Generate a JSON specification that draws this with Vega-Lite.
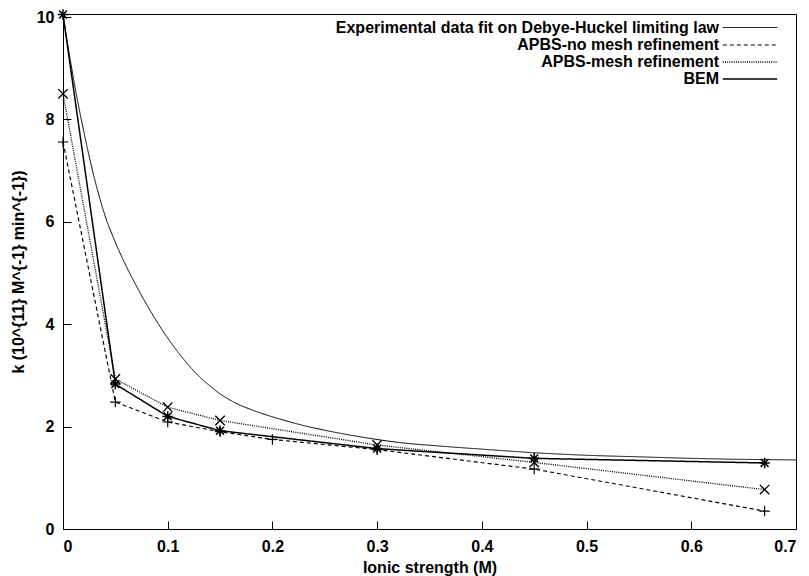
{
  "$schema": "https://vega.github.io/schema/vega-lite/v6.json",
  "width": 733,
  "height": 515,
  "autosize": "none",
  "padding": {"left": 63, "top": 14, "right": 13, "bottom": 47},
  "background": "white",
  "config": {
    "view": {"stroke": "black", "strokeWidth": 1},
    "font": "Liberation Sans",
    "axis": {
      "grid": false,
      "labelFont": "Liberation Sans",
      "labelFontSize": 16,
      "labelFontWeight": "bold",
      "labelColor": "black",
      "titleFont": "Liberation Sans",
      "titleFontSize": 16,
      "titleFontWeight": "bold",
      "titleColor": "black"
    }
  },
  "datasets": {
    "fit": [
      {"series": "Experimental data fit on Debye-Huckel limiting law", "x": 0, "k": 10.05},
      {"series": "Experimental data fit on Debye-Huckel limiting law", "x": 0.005, "k": 9.4},
      {"series": "Experimental data fit on Debye-Huckel limiting law", "x": 0.01, "k": 8.8},
      {"series": "Experimental data fit on Debye-Huckel limiting law", "x": 0.015, "k": 8.25},
      {"series": "Experimental data fit on Debye-Huckel limiting law", "x": 0.02, "k": 7.75},
      {"series": "Experimental data fit on Debye-Huckel limiting law", "x": 0.025, "k": 7.28},
      {"series": "Experimental data fit on Debye-Huckel limiting law", "x": 0.03, "k": 6.85},
      {"series": "Experimental data fit on Debye-Huckel limiting law", "x": 0.035, "k": 6.47},
      {"series": "Experimental data fit on Debye-Huckel limiting law", "x": 0.04, "k": 6.13},
      {"series": "Experimental data fit on Debye-Huckel limiting law", "x": 0.05, "k": 5.6},
      {"series": "Experimental data fit on Debye-Huckel limiting law", "x": 0.06, "k": 5.15},
      {"series": "Experimental data fit on Debye-Huckel limiting law", "x": 0.07, "k": 4.75},
      {"series": "Experimental data fit on Debye-Huckel limiting law", "x": 0.08, "k": 4.38},
      {"series": "Experimental data fit on Debye-Huckel limiting law", "x": 0.09, "k": 4.04},
      {"series": "Experimental data fit on Debye-Huckel limiting law", "x": 0.1, "k": 3.73},
      {"series": "Experimental data fit on Debye-Huckel limiting law", "x": 0.11, "k": 3.45},
      {"series": "Experimental data fit on Debye-Huckel limiting law", "x": 0.12, "k": 3.2},
      {"series": "Experimental data fit on Debye-Huckel limiting law", "x": 0.13, "k": 2.98},
      {"series": "Experimental data fit on Debye-Huckel limiting law", "x": 0.14, "k": 2.8},
      {"series": "Experimental data fit on Debye-Huckel limiting law", "x": 0.15, "k": 2.64},
      {"series": "Experimental data fit on Debye-Huckel limiting law", "x": 0.162, "k": 2.49},
      {"series": "Experimental data fit on Debye-Huckel limiting law", "x": 0.18, "k": 2.33},
      {"series": "Experimental data fit on Debye-Huckel limiting law", "x": 0.194, "k": 2.23},
      {"series": "Experimental data fit on Debye-Huckel limiting law", "x": 0.21, "k": 2.13},
      {"series": "Experimental data fit on Debye-Huckel limiting law", "x": 0.226, "k": 2.04},
      {"series": "Experimental data fit on Debye-Huckel limiting law", "x": 0.257, "k": 1.9},
      {"series": "Experimental data fit on Debye-Huckel limiting law", "x": 0.29, "k": 1.78},
      {"series": "Experimental data fit on Debye-Huckel limiting law", "x": 0.321, "k": 1.69},
      {"series": "Experimental data fit on Debye-Huckel limiting law", "x": 0.36, "k": 1.62},
      {"series": "Experimental data fit on Debye-Huckel limiting law", "x": 0.4, "k": 1.56},
      {"series": "Experimental data fit on Debye-Huckel limiting law", "x": 0.45, "k": 1.49},
      {"series": "Experimental data fit on Debye-Huckel limiting law", "x": 0.5, "k": 1.44},
      {"series": "Experimental data fit on Debye-Huckel limiting law", "x": 0.55, "k": 1.41},
      {"series": "Experimental data fit on Debye-Huckel limiting law", "x": 0.6, "k": 1.38},
      {"series": "Experimental data fit on Debye-Huckel limiting law", "x": 0.65, "k": 1.36},
      {"series": "Experimental data fit on Debye-Huckel limiting law", "x": 0.7, "k": 1.35}
    ],
    "sim": [
      {"series": "APBS-no mesh refinement", "x": 0, "k": 7.56},
      {"series": "APBS-no mesh refinement", "x": 0.05, "k": 2.48},
      {"series": "APBS-no mesh refinement", "x": 0.1, "k": 2.09},
      {"series": "APBS-no mesh refinement", "x": 0.15, "k": 1.9},
      {"series": "APBS-no mesh refinement", "x": 0.2, "k": 1.75},
      {"series": "APBS-no mesh refinement", "x": 0.3, "k": 1.55},
      {"series": "APBS-no mesh refinement", "x": 0.45, "k": 1.17},
      {"series": "APBS-no mesh refinement", "x": 0.67, "k": 0.35},
      {"series": "APBS-mesh refinement", "x": 0, "k": 8.5},
      {"series": "APBS-mesh refinement", "x": 0.05, "k": 2.93},
      {"series": "APBS-mesh refinement", "x": 0.1, "k": 2.38},
      {"series": "APBS-mesh refinement", "x": 0.15, "k": 2.12},
      {"series": "APBS-mesh refinement", "x": 0.3, "k": 1.64},
      {"series": "APBS-mesh refinement", "x": 0.45, "k": 1.3},
      {"series": "APBS-mesh refinement", "x": 0.67, "k": 0.77},
      {"series": "BEM", "x": 0, "k": 10.05},
      {"series": "BEM", "x": 0.05, "k": 2.83},
      {"series": "BEM", "x": 0.1, "k": 2.2},
      {"series": "BEM", "x": 0.15, "k": 1.92},
      {"series": "BEM", "x": 0.3, "k": 1.57},
      {"series": "BEM", "x": 0.45, "k": 1.38},
      {"series": "BEM", "x": 0.67, "k": 1.29}
    ]
  },
  "layer": [
    {
      "data": {"name": "fit"},
      "mark": {"type": "line", "color": "black", "interpolate": "monotone"},
      "encoding": {
        "x": {"field": "x", "type": "quantitative", "scale": {"domain": [0, 0.7], "nice": false},
          "axis": {"orient": "bottom", "values": [0, 0.1, 0.2, 0.3, 0.4, 0.5, 0.6, 0.7], "format": "~g", "title": "Ionic strength (M)", "ticks": true, "tickSize": 8, "tickWidth": 1, "tickColor": "black", "offset": -8, "domainOpacity": 0, "labelPadding": 9, "titlePadding": 5}},
        "y": {"field": "k", "type": "quantitative", "scale": {"domain": [0, 10.06], "nice": false},
          "axis": {"orient": "left", "values": [0, 2, 4, 6, 8, 10], "title": "k (10^{11} M^{-1} min^{-1})", "ticks": true, "tickSize": 8, "tickWidth": 1, "tickColor": "black", "offset": -8, "domainOpacity": 0, "labelPadding": 9, "titlePadding": 10}},
        "strokeDash": {"field": "series", "type": "nominal",
          "scale": {"domain": ["Experimental data fit on Debye-Huckel limiting law", "APBS-no mesh refinement", "APBS-mesh refinement", "BEM"], "range": [[1, 0], [4, 3], [1, 1.2], [1, 0]]},
          "legend": {"orient": "none", "legendX": 678, "legendY": 5, "title": null, "symbolType": "M-3.4,0L3.4,0", "symbolSize": 256, "symbolStrokeColor": "black", "symbolFillColor": "transparent", "labelAlign": "right", "labelOffset": -40, "labelFontSize": 16, "labelFontWeight": "bold", "labelColor": "black", "labelLimit": 0, "rowPadding": 0, "padding": 0}},
        "strokeWidth": {"field": "series", "type": "nominal",
          "scale": {"domain": ["Experimental data fit on Debye-Huckel limiting law", "APBS-no mesh refinement", "APBS-mesh refinement", "BEM"], "range": [1, 1.5, 1.5, 3]},
          "legend": {"orient": "none", "legendX": 678, "legendY": 5, "title": null, "symbolType": "M-3.4,0L3.4,0", "symbolSize": 256, "symbolStrokeColor": "black", "symbolFillColor": "transparent", "labelAlign": "right", "labelOffset": -40, "labelFontSize": 16, "labelFontWeight": "bold", "labelColor": "black", "labelLimit": 0, "rowPadding": 0, "padding": 0}}
      }
    },
    {
      "data": {"name": "sim"},
      "mark": {"type": "line", "color": "black"},
      "encoding": {
        "x": {"field": "x", "type": "quantitative"},
        "y": {"field": "k", "type": "quantitative"},
        "strokeDash": {"field": "series", "type": "nominal"},
        "strokeWidth": {"field": "series", "type": "nominal"}
      }
    },
    {
      "data": {"name": "sim"},
      "mark": {"type": "point", "color": "black", "filled": false, "size": 110, "opacity": 1},
      "encoding": {
        "x": {"field": "x", "type": "quantitative"},
        "y": {"field": "k", "type": "quantitative"},
        "shape": {"field": "series", "type": "nominal", "legend": null,
          "scale": {"domain": ["APBS-no mesh refinement", "APBS-mesh refinement", "BEM"],
            "range": ["M-1,0L1,0M0,-1L0,1", "M-0.9,-0.9L0.9,0.9M-0.9,0.9L0.9,-0.9", "M-1,0L1,0M0,-1L0,1M-0.75,-0.75L0.75,0.75M-0.75,0.75L0.75,-0.75"]}},
        "strokeWidth": {"field": "series", "type": "nominal"}
      }
    }
  ]
}
